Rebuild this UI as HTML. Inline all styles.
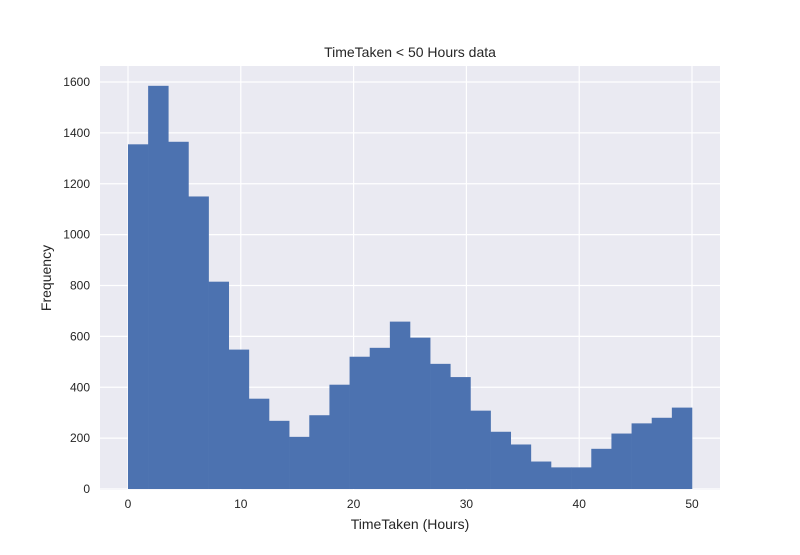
<!DOCTYPE html>
<html><head><meta charset="utf-8"><style>
body{margin:0;background:#fff;}
svg text{font-family:"Liberation Sans",sans-serif;fill:#262626;}
</style></head><body>
<svg id="chart" width="800" height="550" xmlns="http://www.w3.org/2000/svg">
<rect x="100" y="66" width="620" height="424" fill="#EAEAF2"/>
<g id="grid"></g>
<g id="bars"></g>
<g id="ticks"></g>
<text x="410" y="57" font-size="14" text-anchor="middle">TimeTaken &lt; 50 Hours data</text>
<text x="410" y="529" font-size="14" text-anchor="middle">TimeTaken (Hours)</text>
<text x="51" y="278" font-size="14" text-anchor="middle" transform="rotate(-90 51 278)">Frequency</text>
</svg>
<script>
const counts=[1355,1585,1365,1150,815,548,355,268,205,290,410,520,555,658,595,492,440,308,225,175,108,85,85,158,218,258,280,320];
const binStart=0, binEnd=50;
const xTicks=[0,10,20,30,40,50];
const yTicks=[0,200,400,600,800,1000,1200,1400,1600];
const NS="http://www.w3.org/2000/svg";
const xs=v=>128+(v-binStart)*(692-128)/(binEnd-binStart);
const ys=v=>489-v*(489-82)/1600;
function mk(t,a,p){const e=document.createElementNS(NS,t);for(const k in a)e.setAttribute(k,a[k]);p.appendChild(e);return e;}
const grid=document.getElementById('grid'),bars=document.getElementById('bars'),ticks=document.getElementById('ticks');
xTicks.forEach(v=>{
 const l=mk('line',{x1:xs(v),x2:xs(v),y1:66,y2:490,stroke:'#fff','stroke-width':1.2},grid);
 
 
 const t=mk('text',{x:xs(v),y:508,'font-size':12,'text-anchor':'middle'},ticks);t.textContent=v;
 
 
});
yTicks.forEach(v=>{
 const l=mk('line',{x1:100,x2:720,y1:ys(v),y2:ys(v),stroke:'#fff','stroke-width':1.2},grid);
 
 
 const t=mk('text',{x:90,y:ys(v)+4,'font-size':12,'text-anchor':'end'},ticks);t.textContent=v;
 
 
});
const w=(binEnd-binStart)/counts.length;
counts.forEach((c,i)=>{
 const x0=xs(binStart+i*w),x1=xs(binStart+(i+1)*w);
 const r=mk('rect',{x:x0,y:ys(c),width:x1-x0+0.3,height:ys(0)-ys(c),fill:'#4C72B0'},bars);
 
 
});
</script>
</body></html>
